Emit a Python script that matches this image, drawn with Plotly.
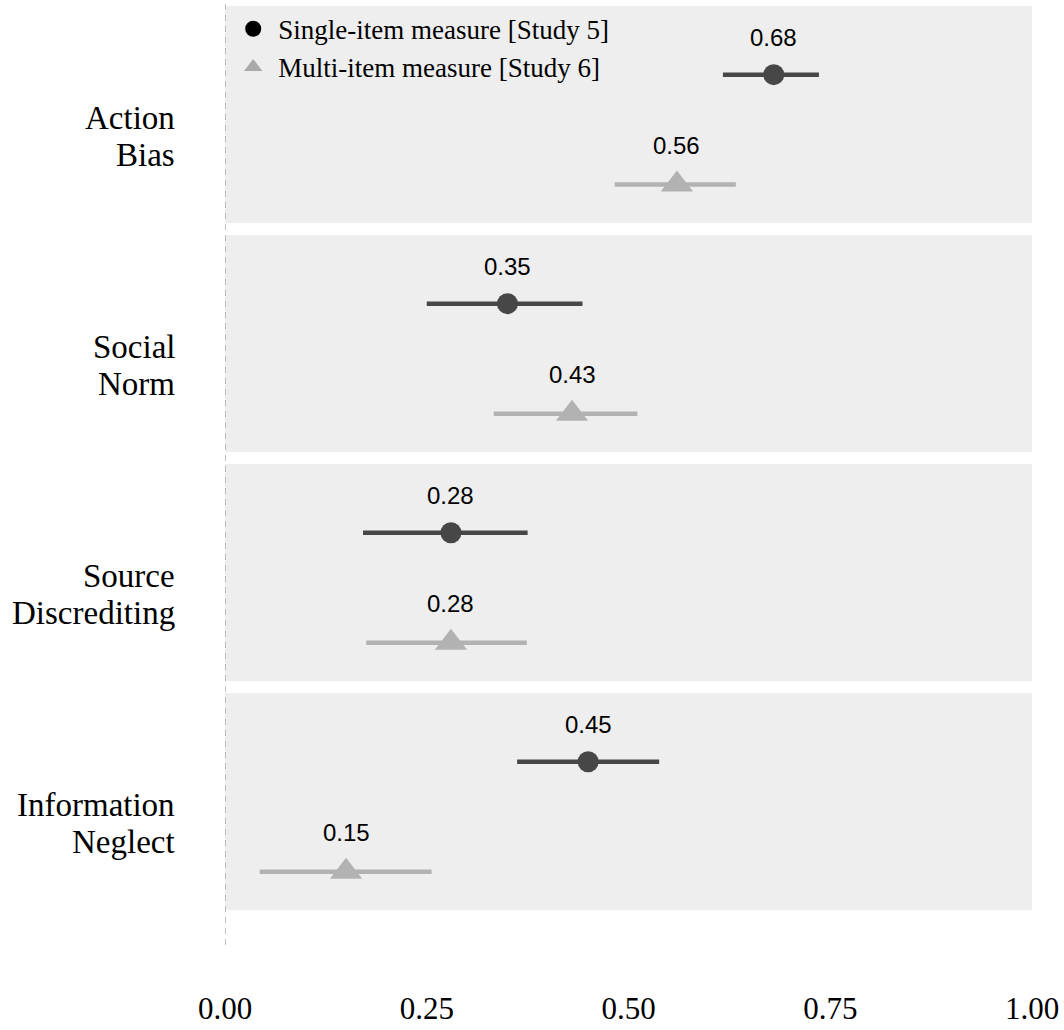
import plotly.graph_objects as go

# Effect estimates with 95% intervals, per strategy and measure
categories = ["Action Bias", "Social Norm", "Source Discrediting", "Information Neglect"]

single_est = [0.68, 0.35, 0.28, 0.45]
single_lo = [0.617, 0.250, 0.171, 0.362]
single_hi = [0.736, 0.443, 0.375, 0.538]

multi_est = [0.56, 0.43, 0.28, 0.15]
multi_lo = [0.483, 0.333, 0.175, 0.043]
multi_hi = [0.633, 0.511, 0.374, 0.256]

series_names = ["Single-item measure [Study 5]", "Multi-item measure [Study 6]"]
x_ticks = [0.0, 0.25, 0.5, 0.75, 1.0]

# Layout helpers (row units: each facet is one unit tall)
PANEL_H = 0.948
OFF_SINGLE = 0.30
OFF_MULTI = 0.78
DARK = "#474747"
LIGHT = "#b2b2b2"
SERIF = "Liberation Serif, Times New Roman, serif"
SANS = "Liberation Sans, Arial, sans-serif"

rows = list(range(len(categories)))
y_single = [r + OFF_SINGLE for r in rows]
y_multi = [r + OFF_MULTI for r in rows]

fig = go.Figure()

fig.add_trace(go.Scatter(
    x=single_est, y=y_single, mode="markers", showlegend=False,
    marker=dict(symbol="circle", size=21, color=DARK),
    error_x=dict(type="data", symmetric=False,
                 array=[h - e for h, e in zip(single_hi, single_est)],
                 arrayminus=[e - l for e, l in zip(single_est, single_lo)],
                 color=DARK, thickness=4.5, width=0),
))
fig.add_trace(go.Scatter(
    x=multi_est, y=y_multi, mode="markers", showlegend=False,
    marker=dict(symbol="triangle-up", size=28, color=LIGHT),
    error_x=dict(type="data", symmetric=False,
                 array=[h - e for h, e in zip(multi_hi, multi_est)],
                 arrayminus=[e - l for e, l in zip(multi_est, multi_lo)],
                 color=LIGHT, thickness=4.5, width=0),
))

# Legend entries
fig.add_trace(go.Scatter(x=[None], y=[None], mode="markers", name=series_names[0],
                         marker=dict(symbol="circle", size=20, color="#000000")))
fig.add_trace(go.Scatter(x=[None], y=[None], mode="markers", name=series_names[1],
                         marker=dict(symbol="triangle-up", size=26, color="#aaaaaa")))

shapes = []
annotations = []
for r, cat in zip(rows, categories):
    # facet background
    shapes.append(dict(type="rect", xref="x", yref="y", x0=0, x1=1, y0=r, y1=r + PANEL_H,
                       fillcolor="#eeeeee", line=dict(width=0), layer="below"))
    # two-line category label
    words = cat.split(" ")
    mid = r + 0.57
    for k, w in enumerate(words):
        annotations.append(dict(xref="paper", yref="y", x=-0.059, y=mid,
                                yshift=18.5 if k == 0 else -18.5,
                                text=w, showarrow=False, xanchor="right", yanchor="middle",
                                font=dict(family=SERIF, size=33, color="#000000")))

# value labels above each estimate
for est, y in zip(single_est, y_single):
    annotations.append(dict(x=est, y=y, yshift=37, text=f"{est:.2f}", showarrow=False,
                            xanchor="center", yanchor="middle",
                            font=dict(family=SANS, size=24, color="#000000")))
for est, y in zip(multi_est, y_multi):
    annotations.append(dict(x=est, y=y, yshift=39, text=f"{est:.2f}", showarrow=False,
                            xanchor="center", yanchor="middle",
                            font=dict(family=SANS, size=24, color="#000000")))

# dashed reference line at zero
shapes.append(dict(type="line", xref="x", yref="paper", x0=0, x1=0, y0=0, y1=1,
                   line=dict(color="#999999", width=1.2, dash="6px,5px"), layer="above"))

fig.update_layout(
    width=1064, height=1030,
    margin=dict(l=225, r=32, t=0, b=85),
    paper_bgcolor="white", plot_bgcolor="white",
    shapes=shapes, annotations=annotations,
    legend=dict(x=0.004, y=0.995, xanchor="left", yanchor="top",
                bgcolor="rgba(0,0,0,0)", font=dict(family=SERIF, size=27, color="#000000"),
                itemwidth=40, tracegroupgap=0),
    xaxis=dict(range=[0, 1], tickvals=x_ticks, tickformat=".2f",
               showgrid=False, zeroline=False, showline=False, ticks="",
               ticklabelstandoff=42, automargin=False,
               tickfont=dict(family=SERIF, size=31, color="#000000")),
    yaxis=dict(range=[4.10, -0.026], showgrid=False, zeroline=False, showline=False,
               showticklabels=False, ticks="", automargin=False),
)

fig.write_html("out.html")
